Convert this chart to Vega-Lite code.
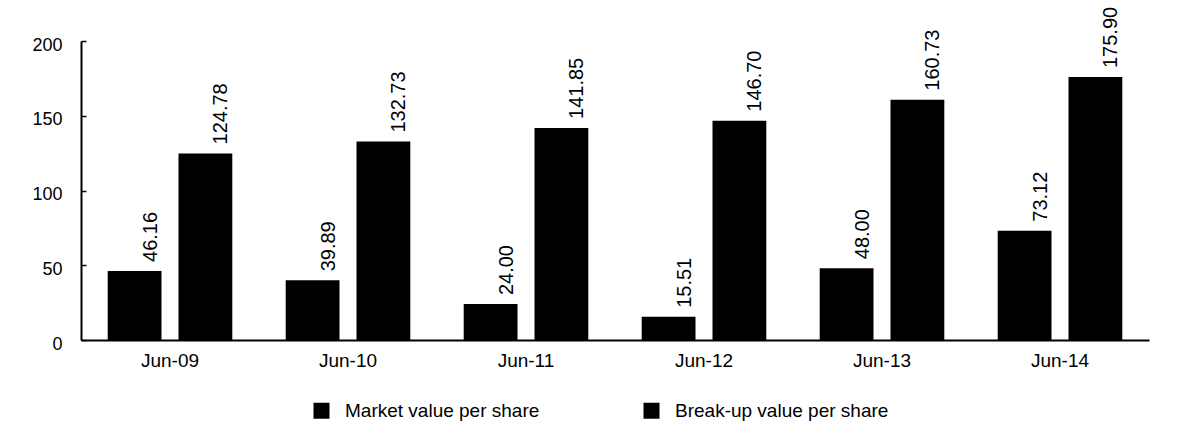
{
  "$schema": "https://vega.github.io/schema/vega-lite/v6.json",
  "autosize": "none",
  "width": 1068,
  "height": 299,
  "padding": {"left": 81, "top": 41, "right": 34, "bottom": 84},
  "background": "white",
  "config": {
    "font": "Liberation Sans",
    "view": {"stroke": null}
  },
  "data": {
    "values": [
      {"period": "Jun-09", "series": "Market value per share", "value": 46.16, "label": "46.16"},
      {"period": "Jun-09", "series": "Break-up value per share", "value": 124.78, "label": "124.78"},
      {"period": "Jun-10", "series": "Market value per share", "value": 39.89, "label": "39.89"},
      {"period": "Jun-10", "series": "Break-up value per share", "value": 132.73, "label": "132.73"},
      {"period": "Jun-11", "series": "Market value per share", "value": 24.00, "label": "24.00"},
      {"period": "Jun-11", "series": "Break-up value per share", "value": 141.85, "label": "141.85"},
      {"period": "Jun-12", "series": "Market value per share", "value": 15.51, "label": "15.51"},
      {"period": "Jun-12", "series": "Break-up value per share", "value": 146.70, "label": "146.70"},
      {"period": "Jun-13", "series": "Market value per share", "value": 48.00, "label": "48.00"},
      {"period": "Jun-13", "series": "Break-up value per share", "value": 160.73, "label": "160.73"},
      {"period": "Jun-14", "series": "Market value per share", "value": 73.12, "label": "73.12"},
      {"period": "Jun-14", "series": "Break-up value per share", "value": 175.90, "label": "175.90"}
    ]
  },
  "encoding": {
    "x": {
      "field": "period",
      "type": "nominal",
      "sort": null,
      "scale": {"paddingInner": 0.3, "paddingOuter": 0.15},
      "axis": {
        "title": null,
        "labelAngle": 0,
        "labelFontSize": 19,
        "labelColor": "black",
        "labelPadding": 11,
        "ticks": false,
        "domainColor": "black",
        "domainWidth": 2
      }
    },
    "xOffset": {
      "field": "series",
      "type": "nominal",
      "sort": ["Market value per share", "Break-up value per share"],
      "scale": {"paddingInner": 0.24}
    },
    "y": {
      "field": "value",
      "type": "quantitative",
      "scale": {"domain": [0, 200], "nice": false},
      "axis": {
        "title": null,
        "values": [0, 50, 100, 150, 200],
        "grid": false,
        "labelFontSize": 18,
        "labelColor": "black",
        "labelPadding": 24,
        "labelOffset": 4,
        "tickSize": -5,
        "tickColor": "black",
        "tickWidth": 1.5,
        "domainColor": "black",
        "domainWidth": 2
      }
    }
  },
  "layer": [
    {
      "mark": {"type": "bar", "color": "black"},
      "encoding": {
        "color": {
          "field": "series",
          "type": "nominal",
          "sort": ["Market value per share", "Break-up value per share"],
          "scale": {"range": ["black", "black"]},
          "legend": {
            "title": null,
            "orient": "none",
            "legendX": 231,
            "legendY": 360,
            "direction": "horizontal",
            "columns": 2,
            "columnPadding": 102,
            "symbolType": "square",
            "symbolSize": 256,
            "symbolStrokeWidth": 0,
            "labelFontSize": 19,
            "labelColor": "black",
            "labelOffset": 14,
            "labelLimit": 400
          }
        }
      }
    },
    {
      "mark": {"type": "text", "angle": -90, "align": "left", "baseline": "middle", "dx": 9, "dy": 16, "fontSize": 20, "color": "black"},
      "encoding": {
        "text": {"field": "label", "type": "nominal"}
      }
    }
  ]
}
